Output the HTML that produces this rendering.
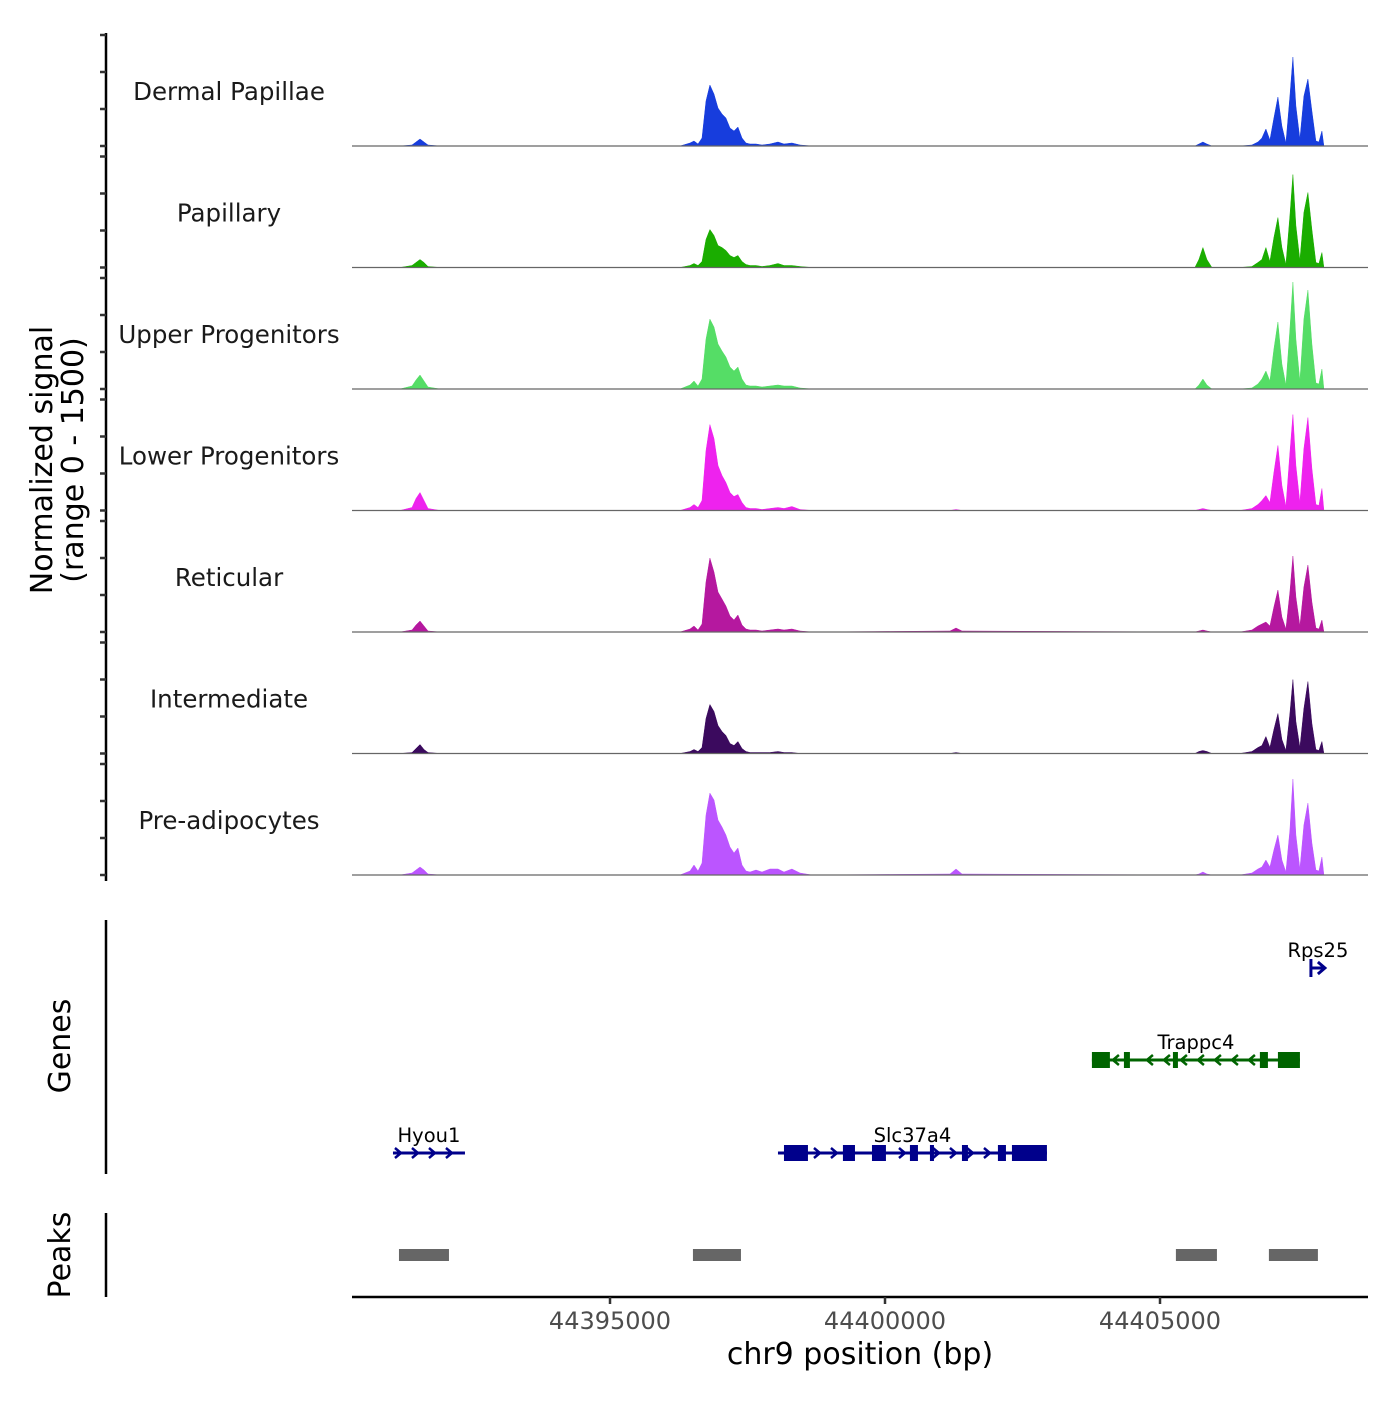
<!DOCTYPE html>
<html><head><meta charset="utf-8"><style>
html,body{margin:0;padding:0;background:#fff}
svg text{font-family:"DejaVu Sans","Liberation Sans",sans-serif}
</style></head><body>
<svg id="chart" width="1400" height="1400" viewBox="0 0 1400 1400" xmlns="http://www.w3.org/2000/svg"></svg>
<script>
const positions=[44391182,44391400,44391473,44391545,44391618,44391691,44391909,
44396272,44396454,44396527,44396599,44396672,44396745,44396817,44396890,44396963,44397036,44397108,44397181,44397254,44397326,44397399,44397472,44397545,44397654,44397763,44397908,44398054,44398163,44398308,44398454,44398672,
44401181,44401290,44401399,
44405635,44405707,44405780,44405853,44405944,
44406453,44406671,44406780,44406853,44406926,44406998,44407071,44407144,44407216,44407289,44407362,44407417,44407471,44407544,44407616,44407689,44407762,44407835,44407889,44407944,44407980];
const trackNames=["Dermal Papillae","Papillary","Upper Progenitors","Lower Progenitors","Reticular","Intermediate","Pre-adipocytes"];
const trackColors=["#173ddd","#1aad00","#55dd66","#ee22ee","#b5189f","#3b0a5e","#bb55ff"];
const dermalPapillae=[0,14,54,95,54,14,0, 0,41,68,27,108,608,824,702,513,432,378,243,203,257,108,41,27,27,14,27,54,27,41,14,0, 0,0,0, 0,27,54,27,0, 0,14,54,108,230,81,378,662,270,41,675,1202,540,95,675,905,473,68,54,203,0];
const papillary=[0,27,68,108,68,14,0, 0,27,54,27,81,378,513,432,297,270,230,162,135,162,81,41,27,27,14,27,54,27,27,14,0, 0,0,0, 0,108,270,108,0, 0,14,68,108,270,81,405,675,270,41,702,1256,567,95,743,1013,513,68,54,203,0];
const upperProgenitors=[0,41,122,189,108,27,0, 0,54,108,41,135,675,945,837,608,513,432,297,243,297,135,54,41,41,27,41,54,41,41,14,0, 0,0,0, 0,54,135,54,0, 0,14,68,135,243,108,540,905,338,54,810,1445,675,108,945,1337,608,81,68,270,0];
const lowerProgenitors=[0,41,162,243,135,27,0, 0,41,81,41,135,810,1161,972,608,473,378,243,189,216,108,41,27,27,14,27,41,27,54,14,0, 0,14,0, 0,14,27,14,0, 0,27,81,135,203,108,513,878,338,54,783,1296,608,108,837,1256,567,81,68,297,0];
const reticular=[0,27,95,149,81,14,0, 0,41,81,27,108,675,999,810,540,446,351,216,162,230,95,41,27,27,14,27,41,27,41,14,0, 14,54,14, 0,14,27,14,0, 0,27,81,108,135,81,338,567,203,41,540,1026,473,81,608,905,405,54,41,162,0];
const intermediate=[0,14,68,122,54,14,0, 0,27,54,27,81,473,662,567,378,297,243,135,108,162,68,27,14,14,14,14,27,14,14,0,0, 0,14,0, 0,27,41,27,0, 0,27,81,108,230,81,324,540,189,41,540,999,432,81,608,972,405,54,41,162,0];
const preAdipocytes=[0,27,68,108,68,14,0, 0,54,135,54,162,810,1107,1013,743,648,540,378,297,365,135,54,41,68,41,81,81,41,81,27,0, 14,81,14, 0,14,41,14,0, 0,27,81,108,203,108,338,540,203,41,608,1296,540,81,675,972,432,68,54,243,0];
const seriesValues=[dermalPapillae,papillary,upperProgenitors,lowerProgenitors,reticular,intermediate,preAdipocytes];
const xTicks=[44395000,44400000,44405000];
const yTicks=[0,500,1000,1500];
const peaksStart=[44391163,44396508,44405289,44406980];
const peaksEnd=[44392072,44397381,44406035,44407871];
const geneNames=["Hyou1","Slc37a4","Trappc4","Rps25"];
const geneStart=[44391054,44398054,44403762,44407744];
const geneEnd=[44392363,44402944,44407544,44407998];
const geneStrand=[1,1,-1,1];
const geneRow=[2,2,1,0];
const geneColor=["#00008b","#00008b","#006400","#00008b"];
const exonStarts=[[],[44398163,44399235,44399763,44400453,44400817,44401399,44402053,44402308],[44403762,44404344,44405235,44406816,44407144],[]];
const exonEnds=[[],[44398599,44399454,44400017,44400599,44400890,44401508,44402199,44402944],[44404089,44404453,44405326,44406962,44407544],[]];

const NS="http://www.w3.org/2000/svg";
const svg=document.getElementById('chart');
function mk(tag,attrs,parent){const e=document.createElementNS(NS,tag);for(const k in attrs)e.setAttribute(k,attrs[k]);(parent||svg).appendChild(e);return e;}
const X0=352,X1=1368,BP0=44390309,PXBP=0.055;
const xs=bp=>X0+(bp-BP0)*PXBP;
const TRACK_H=121.5,FIRST_BASE=146,YPX=111/1500;
const ys=(i,v)=>FIRST_BASE+i*TRACK_H-v*YPX;

let ax=mk('line',{x1:106,y1:33,x2:106,y2:881,stroke:'#000','stroke-width':2.5});

seriesValues.forEach((vals,i)=>{
  yTicks.forEach(t=>{const tk=mk('line',{x1:100,x2:106,y1:ys(i,t),y2:ys(i,t),stroke:'#333','stroke-width':2.5});
  });
  const base=ys(i,0);
  let d='M'+X0+','+base+' L'+xs(positions[0])+','+base;
  positions.forEach((p,j)=>{d+=' L'+xs(p).toFixed(1)+','+ys(i,vals[j]).toFixed(1);});
  d+=' L'+xs(positions[positions.length-1])+','+base+' Z';
  const area=mk('path',{d:d,fill:trackColors[i],stroke:trackColors[i],'stroke-width':0.5});
  
  
  const bl=mk('line',{x1:X0,x2:X1,y1:base,y2:base,stroke:'#666','stroke-width':1.2});
  
  const lb=mk('text',{x:229,y:base-46,'text-anchor':'middle','font-size':24.5,fill:'#1a1a1a'});
  lb.textContent=trackNames[i];
  
});
let yt=mk('text',{transform:'translate(52,460) rotate(-90)','text-anchor':'middle','font-size':30,fill:'#000'});

let t1=mk('tspan',{x:0,dy:0},yt);t1.textContent='Normalized signal';
let t2=mk('tspan',{x:0,dy:31},yt);t2.textContent='(range 0 - 1500)';

let ga=mk('line',{x1:106,y1:920,x2:106,y2:1174,stroke:'#000','stroke-width':2.5});

let gt=mk('text',{transform:'translate(70,1046) rotate(-90)','text-anchor':'middle','font-size':30});
gt.textContent='Genes';
const rowY=[968,1060,1153];
geneNames.forEach((g,i)=>{
  const y=rowY[geneRow[i]],c=geneColor[i],a=xs(geneStart[i]),b=xs(geneEnd[i]);
  const grp=mk('g',{});
  
  mk('line',{x1:a,x2:b,y1:y,y2:y,stroke:c,'stroke-width':3},grp);
  if(g==='Rps25'){
    mk('line',{x1:a,x2:a,y1:y-9,y2:y+9,stroke:c,'stroke-width':3},grp);
    mk('path',{d:`M${b-7},${y-6} L${b},${y} L${b-7},${y+6}`,fill:'none',stroke:c,'stroke-width':3},grp);
  } else {
    const ex=exonStarts[i].map((s,k)=>[xs(s),xs(exonEnds[i][k])]);
    for(let x=a+6;x<b-3;x+=17){
      if(ex.some(e=>x>e[0]-3&&x<e[1]+3))continue;
      const s=geneStrand[i];
      mk('path',{d:`M${x-4*s},${y-5} L${x+2*s},${y} L${x-4*s},${y+5}`,fill:'none',stroke:c,'stroke-width':2.5},grp);
    }
    ex.forEach(e=>mk('rect',{x:e[0],y:y-8,width:Math.max(e[1]-e[0],3),height:16,fill:c},grp));
  }
  const lt=mk('text',{x:(a+b)/2,y:y-11,'text-anchor':'middle','font-size':19.5,fill:'#000'},grp);
  lt.textContent=g;
});

let pa=mk('line',{x1:106,y1:1213,x2:106,y2:1297,stroke:'#000','stroke-width':2.5});

let pt=mk('text',{transform:'translate(70,1255) rotate(-90)','text-anchor':'middle','font-size':30});
pt.textContent='Peaks';
peaksStart.forEach((s,i)=>{
  const r=mk('rect',{x:xs(s),y:1249,width:xs(peaksEnd[i])-xs(s),height:12,fill:'#666'});
  
});

let xa=mk('line',{x1:X0,x2:X1,y1:1297,y2:1297,stroke:'#000','stroke-width':2.5});

xTicks.forEach(t=>{
  const tk=mk('line',{x1:xs(t),x2:xs(t),y1:1297,y2:1304,stroke:'#333','stroke-width':2.5});
  
  const tl=mk('text',{x:xs(t),y:1329,'text-anchor':'middle','font-size':24,fill:'#4d4d4d'});
  tl.textContent=String(t);
});
let xt=mk('text',{x:860,y:1364,'text-anchor':'middle','font-size':30,fill:'#000'});
xt.textContent='chr9 position (bp)';
</script>
</body></html>
